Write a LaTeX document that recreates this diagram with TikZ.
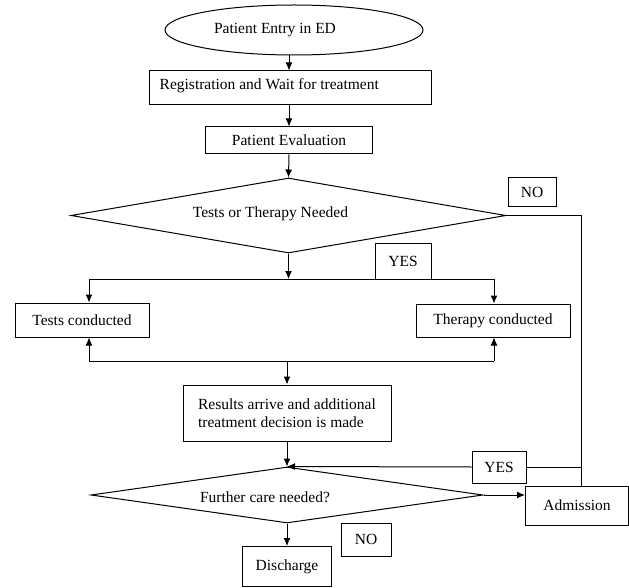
\documentclass[tikz,border=0pt]{standalone}
\usepackage{fontspec}
\setmainfont{Liberation Serif}
\usetikzlibrary{shapes.geometric,arrows.meta}
\begin{document}
\begin{tikzpicture}[x=1pt,y=-1pt,
  every node/.style={font=\fontsize{15.5}{18}\selectfont, inner sep=0pt},
  fbox/.style={draw, line width=1pt, rectangle},
  dia/.style={draw, line width=1pt, diamond},
  ell/.style={draw, line width=1pt, ellipse},
  conn/.style={line width=1pt},
  arr/.style={conn, -{Latex[length=8pt,width=7pt]}}]
\useasboundingbox[fill=white] (0,0) rectangle (629,588);

\node[ell, minimum width=258pt, minimum height=50pt,
  label={[xshift=-19pt]center:Patient Entry in ED}] (entry) at (294,30) {};
\node[fbox, minimum width=282pt, minimum height=34pt,
  label={[anchor=west,xshift=11pt,yshift=2pt]west:Registration and Wait for treatment}] (reg) at (290,88) {};
\node[fbox, minimum width=167pt, minimum height=27pt] (eval) at (289,140.5) {Patient Evaluation};
\node[dia, minimum width=435pt, minimum height=75pt,
  label={[xshift=-18pt,yshift=2pt]center:Tests or Therapy Needed}] (d1) at (288.5,215.5) {};
\node[fbox, minimum width=48pt, minimum height=29pt] (no1) at (532,192.5) {NO};
\node[fbox, minimum width=56pt, minimum height=36pt] (yes1) at (403,261) {YES};
\node[fbox, minimum width=134pt, minimum height=34pt] (tests) at (82,320) {Tests conducted};
\node[fbox, minimum width=154pt, minimum height=33pt] (ther) at (493,320.5) {Therapy conducted};
\node[fbox, minimum width=208pt, minimum height=56pt, align=left] (res) at (287,413)
  {Results arrive and additional\\treatment decision is made};
\node[dia, minimum width=392pt, minimum height=56pt,
  label={[xshift=-22pt,yshift=-2pt]center:Further care needed?}] (d2) at (287,495) {};
\node[fbox, minimum width=103pt, minimum height=39pt] (adm) at (577,505.5) {Admission};
\node[fbox, minimum width=54pt, minimum height=32pt] (yes2) at (499,467) {YES};
\node[fbox, minimum width=50pt, minimum height=33pt] (no2) at (366,539.5) {NO};
\node[fbox, minimum width=89pt, minimum height=40pt] (dis) at (287,566.5) {Discharge};

\coordinate (jL) at (89,279);
\coordinate (jR) at (494,279);
\coordinate (jM) at (288.5,279);
\coordinate (kL) at (89,361);
\coordinate (kR) at (494,361);
\coordinate (kM) at (287,361);
\coordinate (rc) at (581,215.5);
\coordinate (ry) at (581,467);

\draw[arr] (entry.south -| eval) -- (reg.north -| eval);
\draw[arr] (reg.south -| eval) -- (eval.north);
\draw[arr] (eval.south) -- (d1.north);
\draw[arr] (d1.south) -- (jM);
\draw[conn] (jL) -- (jR);
\draw[arr] (jL) -- (jL |- tests.north);
\draw[arr] (jR) -- (jR |- ther.north);
\draw[conn] (kL) -- (kR);
\draw[arr] (kL) -- (kL |- tests.south);
\draw[arr] (kR) -- (kR |- ther.south);
\draw[arr] (kM) -- (res.north);
\draw[arr] (res.south) -- (d2.north);
\draw[arr] (d2.east) -- (d2.east -| adm.west);
\draw[conn] (d1.east) -- (rc) -- (rc |- adm.north);
\draw[conn] (ry) -- (yes2.east);
\draw[arr] (yes2.west) -- (d2.north);
\draw[arr] (d2.south) -- (dis.north);
\end{tikzpicture}
\end{document}
